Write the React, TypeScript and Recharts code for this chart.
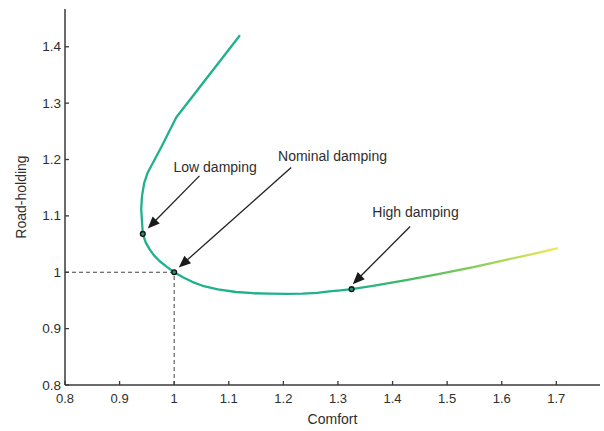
import React from 'react';
import { LineChart, Line, XAxis, YAxis, ReferenceLine, ReferenceDot } from 'recharts';

const comfort = [1.1205, 1.0037, 0.976, 0.9516, 0.945, 0.941, 0.9396, 0.9425, 0.9478, 0.9548, 0.963, 0.973, 0.986, 1.0, 1.016, 1.033, 1.052, 1.08, 1.113, 1.145, 1.175, 1.205, 1.235, 1.262, 1.284, 1.305, 1.325, 1.364, 1.425, 1.486, 1.548, 1.608, 1.656, 1.703];
const roadHolding = [1.4204, 1.2745, 1.2213, 1.177, 1.158, 1.135, 1.1119, 1.068, 1.053, 1.041, 1.03, 1.02, 1.01, 1.0, 0.991, 0.983, 0.976, 0.9695, 0.965, 0.9628, 0.962, 0.9617, 0.962, 0.9635, 0.966, 0.968, 0.97, 0.976, 0.986, 0.997, 1.009, 1.022, 1.032, 1.043];

const xTicks = [0.8, 0.9, 1, 1.1, 1.2, 1.3, 1.4, 1.5, 1.6, 1.7];
const yTicks = [0.8, 0.9, 1, 1.1, 1.2, 1.3, 1.4];

const markedX = [0.9425, 1.0, 1.325];
const markedY = [1.068, 1.0, 0.97];

const noteLabels = ['Low damping', 'Nominal damping', 'High damping'];
const noteTextX = [1.075, 1.29, 1.442];
const noteTextY = [1.1864, 1.2059, 1.1064];
const arrowFromX = [1.0463, 1.2143, 1.4322];
const arrowFromY = [1.1709, 1.1858, 1.0812];
const arrowToX = [0.9516, 1.0084, 1.3271];
const arrowToY = [1.0777, 1.0085, 0.9789];

const data = comfort.map((x, i) => ({ x, y: roadHolding[i] }));

const FONT = 'Liberation Sans, Arial, sans-serif';
const TEXT = '#2e2e2e';
const AXIS = '#3a3a3a';

const XTick = (props: any) => {
  const { x, y, payload } = props;
  return (
    <g>
      <line x1={x} y1={y} x2={x} y2={y - 4} stroke={AXIS} strokeWidth={1.3} />
      <text x={x} y={y + 13} textAnchor="middle" dominantBaseline="central" fontSize={13} fontFamily={FONT} fill={TEXT}>
        {String(payload.value)}
      </text>
    </g>
  );
};

const YTick = (props: any) => {
  const { x, y, payload } = props;
  return (
    <g>
      <line x1={x} y1={y} x2={x + 4} y2={y} stroke={AXIS} strokeWidth={1.3} />
      <text x={x - 4} y={y} textAnchor="end" dominantBaseline="central" fontSize={13.5} fontFamily={FONT} fill={TEXT}>
        {String(payload.value)}
      </text>
    </g>
  );
};

const YLabel = (props: any) => {
  const vb = props.viewBox || { x: 0, y: 9, width: 65, height: 376 };
  const cx = vb.x + 21;
  const cy = vb.y + vb.height / 2;
  return (
    <text x={cx} y={cy} transform={`rotate(-90 ${cx} ${cy})`} textAnchor="middle" dominantBaseline="central" fontSize={14} fontFamily={FONT} fill={TEXT}>
      Road-holding
    </text>
  );
};

const XLabel = (props: any) => {
  const vb = props.viewBox || { x: 65, y: 385, width: 535, height: 46 };
  const cx = vb.x + vb.width / 2;
  return (
    <text x={cx} y={vb.y + 34} textAnchor="middle" dominantBaseline="central" fontSize={14} fontFamily={FONT} fill={TEXT}>
      Comfort
    </text>
  );
};

const Arrow = (props: any) => {
  const { x1, y1, x2, y2 } = props;
  const dx = x2 - x1;
  const dy = y2 - y1;
  const len = Math.sqrt(dx * dx + dy * dy) || 1;
  const ux = dx / len;
  const uy = dy / len;
  const hl = 12;
  const hw = 5;
  const bx = x2 - ux * hl;
  const by = y2 - uy * hl;
  const px = -uy;
  const py = ux;
  return (
    <g>
      <line x1={x1} y1={y1} x2={bx + ux * 2} y2={by + uy * 2} stroke="#222" strokeWidth={1.3} />
      <polygon points={`${x2},${y2} ${bx + px * hw},${by + py * hw} ${bx - px * hw},${by - py * hw}`} fill="#1a1a1a" />
    </g>
  );
};

const makeNote = (text: string) => (props: any) => (
  <text x={props.cx} y={props.cy} textAnchor="middle" dominantBaseline="central" fontSize={14} fontFamily={FONT} fill={TEXT}>
    {text}
  </text>
);

export default function App() {
  return (
    <div style={{ position: 'absolute', left: 0, top: 0, background: '#fff' }}>
      <LineChart width={604} height={431} data={data} margin={{ top: 9, right: 4, bottom: 0, left: 0 }}>
        <defs>
          <linearGradient id="curveGrad" x1="0" y1="0" x2="1" y2="0">
            <stop offset="0" stopColor="#1fb08c" />
            <stop offset="0.5" stopColor="#1fb08c" />
            <stop offset="0.62" stopColor="#3cb868" />
            <stop offset="0.78" stopColor="#7ec95a" />
            <stop offset="1" stopColor="#f4ea5c" />
          </linearGradient>
        </defs>
        <XAxis
          type="number"
          dataKey="x"
          domain={[0.8, 1.78]}
          ticks={xTicks}
          interval={0}
          allowDataOverflow
          height={46}
          tickSize={0}
          tickMargin={0}
          tickLine={false}
          tick={<XTick />}
          axisLine={{ stroke: AXIS, strokeWidth: 1.5 }}
          label={<XLabel />}
        />
        <YAxis
          type="number"
          domain={[0.8, 1.467]}
          ticks={yTicks}
          interval={0}
          allowDataOverflow
          width={65}
          tickSize={0}
          tickMargin={0}
          tickLine={false}
          tick={<YTick />}
          axisLine={{ stroke: AXIS, strokeWidth: 1.5 }}
          label={<YLabel />}
        />
        <ReferenceLine segment={[{ x: 0.8, y: 1 }, { x: 1, y: 1 }]} stroke="#444" strokeWidth={1.1} strokeDasharray="4 3" />
        <ReferenceLine segment={[{ x: 1, y: 0.8 }, { x: 1, y: 1 }]} stroke="#555" strokeWidth={1.1} strokeDasharray="4 3" />
        <Line
          type="linear"
          dataKey="y"
          stroke="url(#curveGrad)"
          strokeWidth={2.3}
          strokeLinejoin="round"
          dot={false}
          activeDot={false}
          isAnimationActive={false}
        />
        {noteLabels.map((t, i) => (
          <ReferenceLine
            key={'a' + i}
            segment={[{ x: arrowFromX[i], y: arrowFromY[i] }, { x: arrowToX[i], y: arrowToY[i] }]}
            shape={<Arrow />}
          />
        ))}
        {markedX.map((mx, i) => (
          <ReferenceDot key={'m' + i} x={mx} y={markedY[i]} r={2.4} fill="#2a8f6e" stroke="#111" strokeWidth={1.3} />
        ))}
        {noteLabels.map((t, i) => (
          <ReferenceDot key={'n' + i} x={noteTextX[i]} y={noteTextY[i]} r={0} shape={makeNote(t)} />
        ))}
      </LineChart>
    </div>
  );
}
